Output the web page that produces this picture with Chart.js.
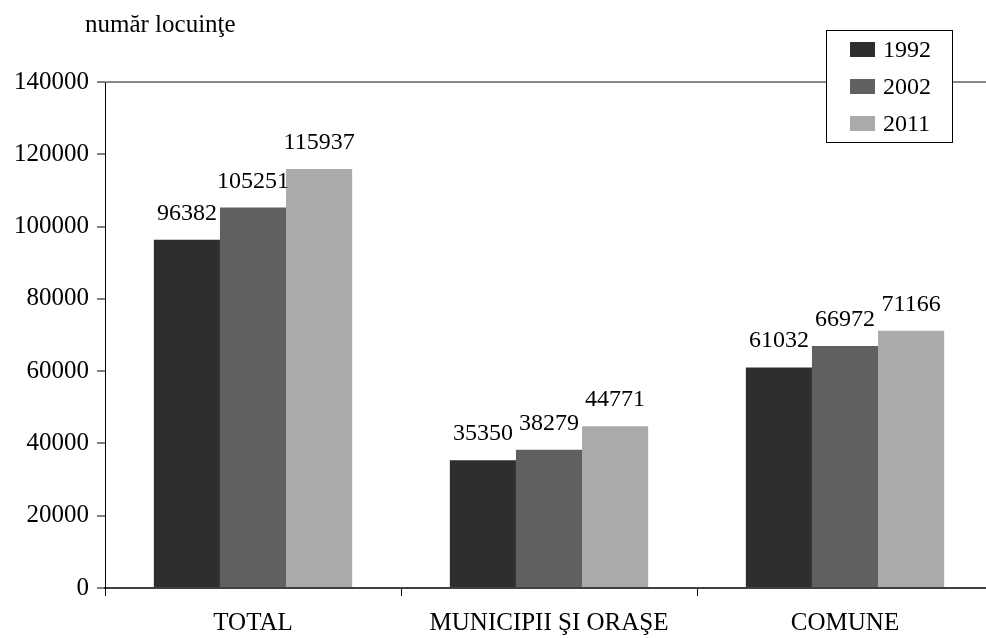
<!DOCTYPE html>
<html>
  <head>
    <script src="https://cdn.jsdelivr.net/npm/chart.js@4/dist/chart.umd.min.js"></script>
    <style>
      body { margin: 0; background: #fff; }
      #wrap { position: relative; width: 986px; height: 638px; overflow: hidden; }
    </style>
  </head>
  <body>
    <div id="wrap"><canvas id="canvas" width="993" height="638"></canvas></div>
    <script>
      const categories = ['TOTAL', 'MUNICIPII ŞI ORAŞE', 'COMUNE'];
      const years = ['1992', '2002', '2011'];
      const values1992 = [96382, 35350, 61032];
      const values2002 = [105251, 38279, 66972];
      const values2011 = [115937, 44771, 71166];
      const colors = ['#2e2e2e', '#606060', '#aaaaaa'];
      const yTitle = 'număr locuinţe';

      const serif = '"Liberation Serif", "DejaVu Serif", serif';

      // value labels above each bar
      const barLabels = {
        id: 'barLabels',
        afterDatasetsDraw(chart) {
          const ctx = chart.ctx;
          ctx.save();
          ctx.font = '24px ' + serif;
          ctx.fillStyle = '#000';
          ctx.textAlign = 'center';
          ctx.textBaseline = 'alphabetic';
          chart.data.datasets.forEach((ds, i) => {
            chart.getDatasetMeta(i).data.forEach((bar, j) => {
              ctx.fillText(String(ds.data[j]), bar.x, bar.y - 20);
            });
          });
          ctx.restore();
        },
      };

      // boxed legend + axis caption
      const boxLegend = {
        id: 'boxLegend',
        afterDraw(chart) {
          const ctx = chart.ctx;
          ctx.save();
          ctx.font = '25px ' + serif;
          ctx.fillStyle = '#000';
          ctx.textBaseline = 'alphabetic';
          ctx.fillText(yTitle, 85, 32);

          const x = 826, y = 30, w = 126, h = 112;
          ctx.fillStyle = '#fff';
          ctx.fillRect(x, y, w, h);
          ctx.strokeStyle = '#000';
          ctx.lineWidth = 1;
          ctx.strokeRect(x + 0.5, y + 0.5, w, h);
          ctx.font = '24px ' + serif;
          ctx.textBaseline = 'middle';
          chart.data.datasets.forEach((ds, i) => {
            const cy = y + 20 + i * 37;
            ctx.fillStyle = ds.backgroundColor;
            ctx.fillRect(x + 24, cy - 8, 25, 15);
            ctx.fillStyle = '#000';
            ctx.fillText(ds.label, x + 57, cy + 1);
          });
          ctx.restore();
        },
      };

      new Chart(document.getElementById('canvas').getContext('2d'), {
        type: 'bar',
        data: {
          labels: categories,
          datasets: [
            { label: years[0], data: values1992, backgroundColor: colors[0] },
            { label: years[1], data: values2002, backgroundColor: colors[1] },
            { label: years[2], data: values2011, backgroundColor: colors[2] },
          ],
        },
        options: {
          responsive: false,
          animation: false,
          layout: { padding: { top: 82, right: 0, left: 0, bottom: 0 } },
          datasets: {
            bar: { categoryPercentage: 0.67, barPercentage: 1, borderWidth: 0 },
          },
          plugins: {
            legend: { display: false },
            tooltip: { enabled: false },
          },
          scales: {
            x: {
              grid: {
                offset: true,
                drawOnChartArea: false,
                tickLength: 8,
                tickColor: '#000',
              },
              border: { color: '#404040', width: 2 },
              ticks: {
                color: '#000',
                font: { family: serif, size: 25 },
                padding: 12,
                maxRotation: 0,
              },
              afterFit(scale) {
                scale.height = 50;
              },
            },
            y: {
              min: 0,
              max: 140000,
              grid: {
                color: (c) => (c.tick && c.tick.value === 140000 ? '#888888' : 'transparent'),
                lineWidth: 2,
                tickColor: '#000',
                tickLength: 8,
                tickWidth: 1,
              },
              border: { color: '#000', width: 1 },
              ticks: {
                stepSize: 20000,
                color: '#000',
                font: { family: serif, size: 25 },
                padding: 8,
                callback: (v) => String(v),
              },
              afterFit(scale) {
                scale.width = 105;
              },
            },
          },
        },
        plugins: [barLabels, boxLegend],
      });
    </script>
  </body>
</html>
